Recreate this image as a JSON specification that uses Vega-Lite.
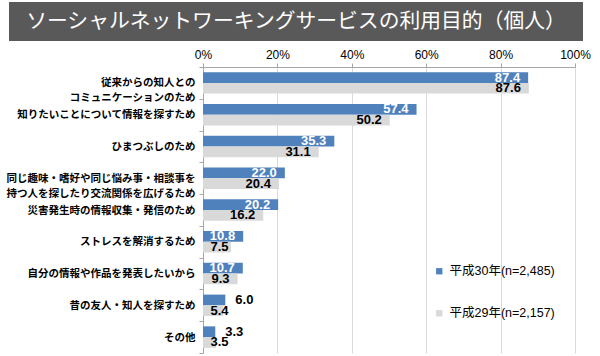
{
  "$schema": "https://vega.github.io/schema/vega-lite/v6.json",
  "background": "white",
  "padding": {"left": 6, "top": 2, "right": 5, "bottom": 0},
  "config": {"view": {"stroke": null}, "font": "Liberation Sans, Noto Sans CJK JP"},
  "spacing": 7,
  "vconcat": [
    {
      "width": 574,
      "height": 39,
      "view": {"fill": "#595959", "stroke": null},
      "data": {"values": [{"t": "ソーシャルネットワーキングサービスの利用目的（個人）"}]},
      "mark": {"type": "text", "color": "white", "fontSize": 20.8, "font": "Noto Sans CJK JP", "align": "center", "baseline": "middle"},
      "encoding": {"text": {"field": "t"}}
    },
    {
      "width": 574,
      "height": 286,
      "data": {"values": [
        {"cat": "従来からの知人との\nコミュニケーションのため", "series": "平成30年(n=2,485)", "value": 87.4},
        {"cat": "従来からの知人との\nコミュニケーションのため", "series": "平成29年(n=2,157)", "value": 87.6},
        {"cat": "知りたいことについて情報を探すため", "series": "平成30年(n=2,485)", "value": 57.4},
        {"cat": "知りたいことについて情報を探すため", "series": "平成29年(n=2,157)", "value": 50.2},
        {"cat": "ひまつぶしのため", "series": "平成30年(n=2,485)", "value": 35.3},
        {"cat": "ひまつぶしのため", "series": "平成29年(n=2,157)", "value": 31.1},
        {"cat": "同じ趣味・嗜好や同じ悩み事・相談事を\n持つ人を探したり交流関係を広げるため", "series": "平成30年(n=2,485)", "value": 22.0},
        {"cat": "同じ趣味・嗜好や同じ悩み事・相談事を\n持つ人を探したり交流関係を広げるため", "series": "平成29年(n=2,157)", "value": 20.4},
        {"cat": "災害発生時の情報収集・発信のため", "series": "平成30年(n=2,485)", "value": 20.2},
        {"cat": "災害発生時の情報収集・発信のため", "series": "平成29年(n=2,157)", "value": 16.2},
        {"cat": "ストレスを解消するため", "series": "平成30年(n=2,485)", "value": 10.8},
        {"cat": "ストレスを解消するため", "series": "平成29年(n=2,157)", "value": 7.5},
        {"cat": "自分の情報や作品を発表したいから", "series": "平成30年(n=2,485)", "value": 10.7},
        {"cat": "自分の情報や作品を発表したいから", "series": "平成29年(n=2,157)", "value": 9.3},
        {"cat": "昔の友人・知人を探すため", "series": "平成30年(n=2,485)", "value": 6.0},
        {"cat": "昔の友人・知人を探すため", "series": "平成29年(n=2,157)", "value": 5.4},
        {"cat": "その他", "series": "平成30年(n=2,485)", "value": 3.3},
        {"cat": "その他", "series": "平成29年(n=2,157)", "value": 3.5}
      ]},
      "encoding": {
        "y": {
          "field": "cat", "type": "nominal", "sort": null,
          "scale": {"paddingInner": 0, "paddingOuter": 0},
          "axis": {
            "title": null, "offset": -194, "domain": true, "domainColor": "#A6A6A6", "ticks": true, "tickBand": "extent",
            "tickSize": 4, "tickColor": "#A6A6A6", "grid": false,
            "labelExpr": "split(datum.label, '\\n')",
            "labelFontSize": 10.5, "labelFontWeight": "bold", "labelFont": "Noto Sans CJK JP",
            "labelColor": "#000000", "labelPadding": 4, "labelLineHeight": 15, "labelLimit": 400
          }
        },
        "yOffset": {
          "field": "series", "type": "nominal",
          "sort": ["平成30年(n=2,485)", "平成29年(n=2,157)"],
          "scale": {"paddingInner": 0, "paddingOuter": 0.48}
        }
      },
      "layer": [
        {
          "mark": {"type": "bar"},
          "encoding": {
            "x": {
              "field": "value", "type": "quantitative",
              "scale": {"domain": [0, 100], "nice": false, "range": [194, 566]},
              "axis": {
                "orient": "top", "title": null, "values": [0, 20, 40, 60, 80, 100],
                "labelExpr": "datum.value + '%'", "labelFontSize": 12, "labelColor": "#000000",
                "labelPadding": 2, "tickSize": 4, "tickColor": "#A6A6A6", "domainColor": "#A6A6A6",
                "grid": true, "gridColor": "#D9D9D9", "labelFlush": false
              }
            },
            "color": {
              "field": "series", "type": "nominal",
              "sort": ["平成30年(n=2,485)", "平成29年(n=2,157)"],
              "scale": {"domain": ["平成30年(n=2,485)", "平成29年(n=2,157)"], "range": ["#4F81BD", "#D9D9D9"]},
              "legend": {
                "title": null, "orient": "none", "legendX": 424, "legendY": 263, "direction": "vertical",
                "symbolType": "square", "symbolSize": 40, "symbolStrokeWidth": 0, "rowPadding": 29,
                "labelFontSize": 12.5, "labelColor": "#000000", "labelOffset": 4
              }
            }
          }
        },
        {
          "transform": [{"filter": "datum.series == '平成30年(n=2,485)' && datum.value >= 10"}],
          "mark": {"type": "text", "align": "right", "baseline": "middle", "dx": -8, "fontSize": 13, "fontWeight": "bold", "color": "#FFFFFF"},
          "encoding": {
            "x": {"field": "value", "type": "quantitative"},
            "text": {"field": "value", "type": "quantitative", "format": ".1f"}
          }
        },
        {
          "transform": [{"filter": "datum.series == '平成30年(n=2,485)' && datum.value < 10"}],
          "mark": {"type": "text", "align": "left", "baseline": "middle", "dx": 10, "fontSize": 13, "fontWeight": "bold", "color": "#000000"},
          "encoding": {
            "x": {"field": "value", "type": "quantitative"},
            "text": {"field": "value", "type": "quantitative", "format": ".1f"}
          }
        },
        {
          "transform": [
            {"filter": "datum.series == '平成29年(n=2,157)'"},
            {"calculate": "max(datum.value, 9)", "as": "labelAt"}
          ],
          "mark": {"type": "text", "align": "right", "baseline": "middle", "dx": -8, "fontSize": 13, "fontWeight": "bold", "color": "#000000"},
          "encoding": {
            "x": {"field": "labelAt", "type": "quantitative"},
            "text": {"field": "value", "type": "quantitative", "format": ".1f"}
          }
        }
      ]
    }
  ]
}
